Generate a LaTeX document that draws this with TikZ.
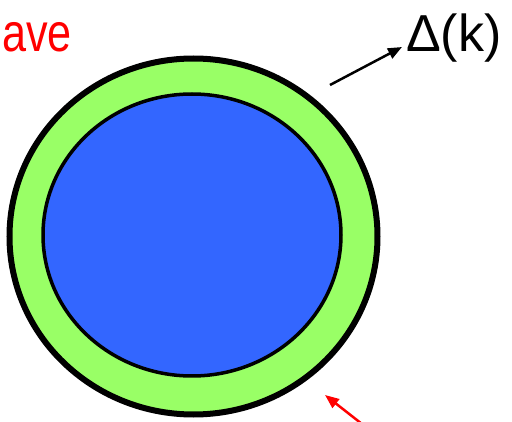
\documentclass[tikz,border=0pt]{standalone}
\usepackage{fontspec}
\setmainfont{Liberation Sans}
\usepackage{tikz}
\usetikzlibrary{positioning, arrows.meta}
\definecolor{shellgreen}{RGB}{153,255,102}
\definecolor{coreblue}{RGB}{51,102,255}
\tikzset{
    shell/.style={draw=black, fill=shellgreen, line width=6pt},
    core/.style={draw=black, fill=coreblue, line width=3.5pt},
    biglabel/.style={font=\fontsize{52}{60}\selectfont, inner sep=0pt},
    redlabel/.style={font=\fontsize{54}{60}\selectfont, text=red, inner sep=0pt, xscale=0.8},
    arrow/.style={-{Triangle[length=14pt, width=11pt]}, line width=2.5pt}
}

\begin{document}
\begin{tikzpicture}[x=1pt, y=-1pt]
        \useasboundingbox (0,0) rectangle (512,422);
        % Shell and core
        \draw[shell] (193.5,236.5) ellipse [x radius=184, y radius=178];
        \draw[core] (192,235) ellipse [x radius=149, y radius=141];

        % Labels
        \node[redlabel, anchor=base west] (wave) at (2,52) {ave};
        \node[biglabel, anchor=base west] (gap) at (406,52) {Δ(k)};

        % Arrows
        \coordinate (gaptail) at (330,85);
        \coordinate (redtail) at (362,424);
        \coordinate (redtip) at (325,395);
        \draw[arrow] (gaptail) -- ([xshift=-4pt, yshift=5pt]gap.base west);
        \draw[arrow, red] (redtail) -- (redtip);
    \end{tikzpicture}
\end{document}
